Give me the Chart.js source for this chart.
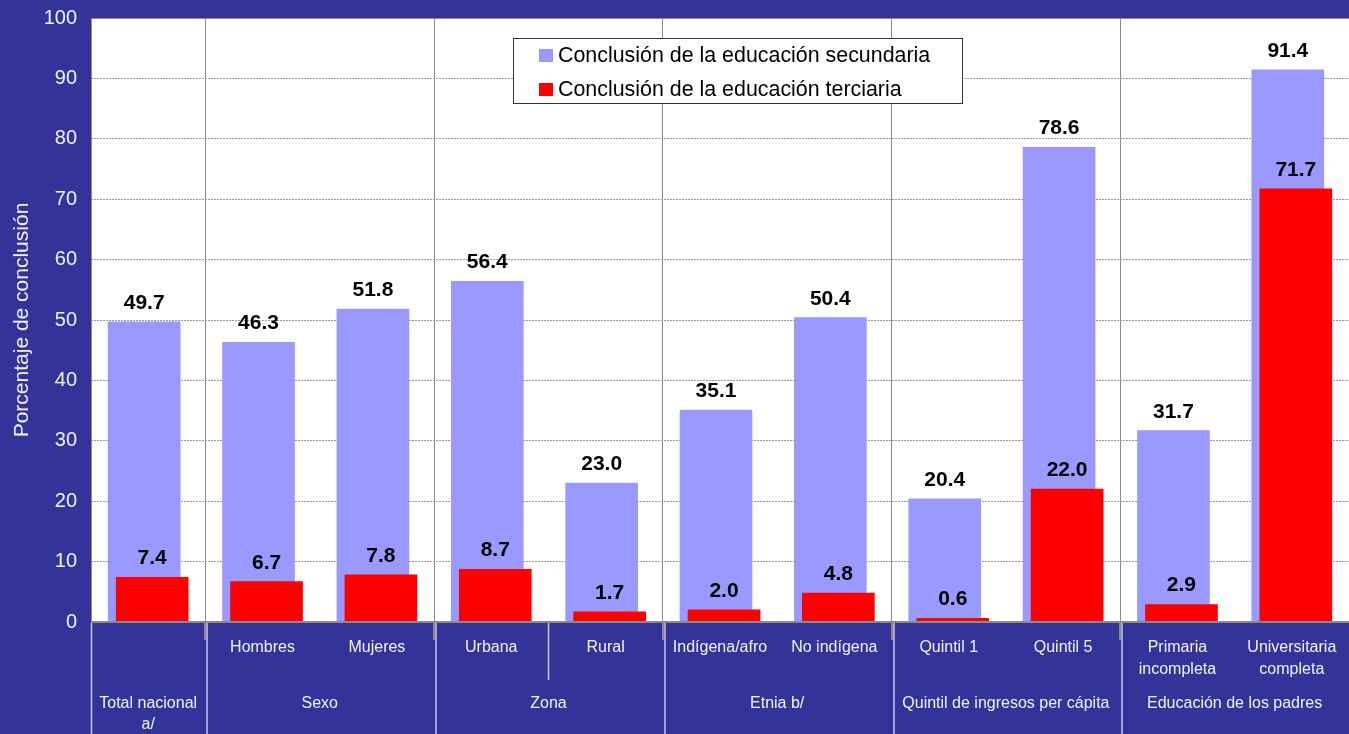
<!DOCTYPE html>
<html>
<head>
<meta charset="utf-8">
<script src="https://cdn.jsdelivr.net/npm/chart.js@4.4.1/dist/chart.umd.min.js"></script>
<style>
  html, body { margin: 0; padding: 0; background: #333399; }
  #box_graph { position: relative; width: 1349px; height: 734px; }
</style>
</head>
<body>
<div id="box_graph"><canvas id="myChart"></canvas></div>
<script>
// datos del grafico
const categorias = ['Total nacional a/', 'Hombres', 'Mujeres', 'Urbana', 'Rural', 'Indígena/afro', 'No indígena', 'Quintil 1', 'Quintil 5', 'Primaria incompleta', 'Universitaria completa'];
const etiquetasNivel1 = [[], ['Hombres'], ['Mujeres'], ['Urbana'], ['Rural'], ['Indígena/afro'], ['No indígena'], ['Quintil 1'], ['Quintil 5'], ['Primaria', 'incompleta'], ['Universitaria', 'completa']];
const grupos = [['Total nacional', 'a/'], ['Sexo'], ['Zona'], ['Etnia b/'], ['Quintil de ingresos per cápita'], ['Educación de los padres']];
const grupoTamano = [1, 2, 2, 2, 2, 2];
const secundaria = [49.7, 46.3, 51.8, 56.4, 23.0, 35.1, 50.4, 20.4, 78.6, 31.7, 91.4];
const terciaria = [7.4, 6.7, 7.8, 8.7, 1.7, 2.0, 4.8, 0.6, 22.0, 2.9, 71.7];
const ticksY = [0, 10, 20, 30, 40, 50, 60, 70, 80, 90, 100];
const nombresSeries = ['Conclusión de la educación secundaria', 'Conclusión de la educación terciaria'];

const FUENTE = '"Liberation Sans", Arial, sans-serif';
const TEXTO_CLARO = '#f2f2ff';
const DESPLAZA = 0.035; // las barras rojas se montan un poco a la derecha de las azules

// indices de las lineas que separan grupos
const limitesGrupo = [];
let acum = 0;
grupoTamano.forEach(n => { acum += n; limitesGrupo.push(acum); });
const ticksX = [-0.5].concat(limitesGrupo.map(k => k - 0.5));

const decorado = {
    id: 'decorado',
    beforeDraw(chart) {
        const a = chart.chartArea;
        const ctx = chart.ctx;
        ctx.save();
        ctx.fillStyle = '#ffffff';
        ctx.fillRect(a.left, a.top, a.right - a.left, a.bottom - a.top);
        ctx.restore();
    },
    afterDatasetsDraw(chart) {
        const ctx = chart.ctx;
        ctx.save();
        ctx.font = 'bold 21px ' + FUENTE;
        ctx.fillStyle = '#000000';
        ctx.textAlign = 'center';
        ctx.textBaseline = 'alphabetic';
        chart.data.datasets.forEach((ds, d) => {
            const meta = chart.getDatasetMeta(d);
            meta.data.forEach((bar, i) => {
                ctx.fillText(ds.data[i].y.toFixed(1), bar.x, bar.y - 13);
            });
        });
        ctx.restore();
    },
    afterDraw(chart) {
        const ctx = chart.ctx;
        const a = chart.chartArea;
        const x = chart.scales.x;
        const limite = i => x.getPixelForValue(i - 0.5);
        const fondo = chart.height;

        ctx.save();
        // marco del area de grafico
        ctx.strokeStyle = '#8a8a8a';
        ctx.lineWidth = 1;
        ctx.beginPath();
        ctx.moveTo(Math.round(a.left) + 0.5, a.bottom);
        ctx.lineTo(Math.round(a.left) + 0.5, Math.round(a.top) + 0.5);
        ctx.lineTo(a.right, Math.round(a.top) + 0.5);
        ctx.stroke();
        ctx.lineWidth = 2;
        ctx.beginPath();
        ctx.moveTo(a.left, Math.round(a.bottom));
        ctx.lineTo(a.right, Math.round(a.bottom));
        ctx.stroke();

        // lineas de la zona de categorias
        ctx.lineWidth = 2;
        ctx.strokeStyle = '#8a8a8a';
        limitesGrupo.slice(0, -1).forEach(k => {
            const px = Math.round(limite(k));
            ctx.beginPath();
            ctx.moveTo(px, a.bottom);
            ctx.lineTo(px, a.bottom + 18);
            ctx.stroke();
        });
        ctx.strokeStyle = '#c9c9ef';
        ctx.lineWidth = 1.5;
        [0].concat(limitesGrupo.slice(0, -1)).forEach(k => {
            const px = Math.round(limite(k)) + (k === 0 ? 0.5 : 2);
            ctx.beginPath();
            ctx.moveTo(px, a.bottom + 1);
            ctx.lineTo(px, fondo);
            ctx.stroke();
        });
        const interior = Math.round(limite(4)) + 0.5;
        ctx.beginPath();
        ctx.moveTo(interior, a.bottom + 1);
        ctx.lineTo(interior, a.bottom + 58);
        ctx.stroke();

        // etiquetas de categorias
        ctx.fillStyle = TEXTO_CLARO;
        ctx.font = '16px ' + FUENTE;
        ctx.textAlign = 'center';
        ctx.textBaseline = 'middle';
        etiquetasNivel1.forEach((lineas, i) => {
            const cx = x.getPixelForValue(i);
            lineas.forEach((t, j) => ctx.fillText(t, cx, a.bottom + 26 + j * 22));
        });
        let inicio = 0;
        grupos.forEach((lineas, g) => {
            const fin = inicio + grupoTamano[g] - 1;
            const cx = (x.getPixelForValue(inicio) + x.getPixelForValue(fin)) / 2;
            lineas.forEach((t, j) => ctx.fillText(t, cx, a.bottom + 82 + j * 21));
            inicio = fin + 1;
        });

        // leyenda
        ctx.fillStyle = '#ffffff';
        ctx.fillRect(513, 38, 450, 66);
        ctx.strokeStyle = '#333333';
        ctx.lineWidth = 1;
        ctx.strokeRect(513.5, 38.5, 449, 65);
        ctx.font = '21.4px ' + FUENTE;
        ctx.textAlign = 'left';
        ctx.textBaseline = 'alphabetic';
        chart.data.datasets.forEach((ds, d) => {
            const y0 = 49 + d * 34;
            ctx.fillStyle = ds.backgroundColor;
            ctx.fillRect(539, y0, 14, 13);
            ctx.fillStyle = '#000000';
            ctx.fillText(ds.label, 558, y0 + 13);
        });
        ctx.restore();
    }
};

const ctx = document.getElementById('myChart').getContext('2d');
new Chart(ctx, {
    type: 'bar',
    data: {
        datasets: [
            {
                label: nombresSeries[0],
                data: secundaria.map((v, i) => ({ x: i - DESPLAZA, y: v })),
                backgroundColor: '#9999ff',
                borderWidth: 0,
                grouped: false,
                barThickness: 72,
                order: 1
            },
            {
                label: nombresSeries[1],
                data: terciaria.map((v, i) => ({ x: i + DESPLAZA, y: v })),
                backgroundColor: '#ff0000',
                borderWidth: 0,
                grouped: false,
                barThickness: 72,
                order: 0
            }
        ]
    },
    options: {
        responsive: true,
        maintainAspectRatio: false,
        animation: false,
        layout: { padding: { top: 18, bottom: 112, left: 0, right: 0 } },
        plugins: {
            legend: { display: false },
            tooltip: { enabled: false }
        },
        scales: {
            x: {
                type: 'linear',
                offset: false,
                min: -0.5,
                max: categorias.length - 0.5,
                afterBuildTicks(scale) { scale.ticks = ticksX.map(v => ({ value: v })); },
                ticks: { display: false },
                grid: {
                    offset: false,
                    drawTicks: false,
                    color: c => (c.tick && c.tick.value > -0.5 && c.tick.value < categorias.length - 0.5) ? '#8a8a8a' : 'rgba(0,0,0,0)'
                },
                border: { display: false },
                afterFit(scale) {
                    scale.height = 0;
                    scale.paddingLeft = 0;
                    scale.paddingRight = 0;
                }
            },
            y: {
                min: 0,
                max: 100,
                afterBuildTicks(scale) { scale.ticks = ticksY.map(v => ({ value: v })); },
                ticks: {
                    color: TEXTO_CLARO,
                    font: { family: FUENTE, size: 20 },
                    padding: 14
                },
                grid: { color: '#9a9a9a', drawTicks: false },
                border: { display: false, dash: [2, 1] },
                title: {
                    display: true,
                    text: 'Porcentaje de conclusión',
                    color: TEXTO_CLARO,
                    font: { family: FUENTE, size: 21 },
                    padding: { top: 10, bottom: 0 }
                },
                afterFit(scale) {
                    scale.width = 91;
                    scale.paddingTop = 0;
                    scale.paddingBottom = 0;
                }
            }
        }
    },
    plugins: [decorado]
});
</script>
</body>
</html>
